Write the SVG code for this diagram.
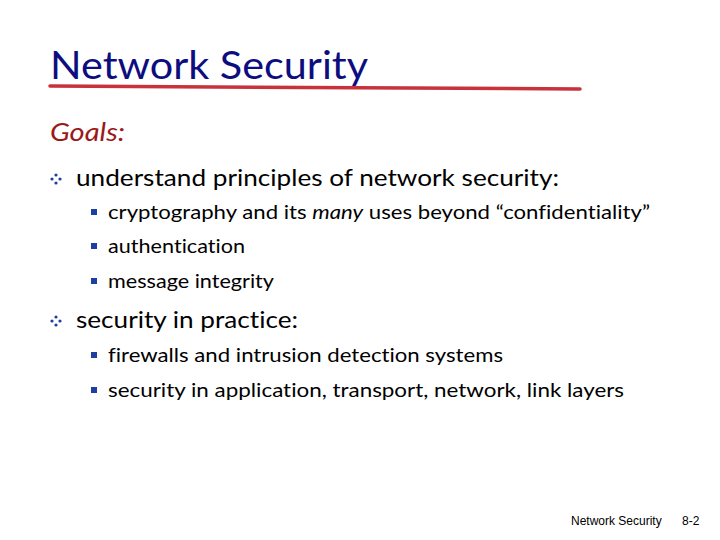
<svg xmlns="http://www.w3.org/2000/svg" width="720" height="540" viewBox="0 0 720 540">
<style>
.t{font-family:Lato,"Liberation Sans",sans-serif;fill:#000;font-variant-ligatures:none}
.l1{font-size:24px}
.l2{font-size:19px}
.sq{fill:#1f3fa0}
.dm{fill:#1f3fa0}
</style>
<defs>
<g id="dia"><circle cx="0" cy="-4" r="1.6" class="dm"/><circle cx="0" cy="4" r="1.6" class="dm"/><circle cx="-4" cy="0" r="1.6" class="dm"/><circle cx="4" cy="0" r="1.6" class="dm"/></g>
<rect id="sq" x="-3" y="-3" width="6" height="6" class="sq"/>
</defs>
<rect width="720" height="540" fill="#fff"/>
<text x="50" y="79" font-family="Lato,'Liberation Sans',sans-serif" font-size="38" fill="#0d0d80" textLength="318" lengthAdjust="spacingAndGlyphs">Network Security</text>
<path d="M50 86 Q300 88 580 89" stroke="#c8323a" stroke-width="3.5" fill="none" stroke-linecap="round"/>
<text x="50" y="141" font-family="Lato,'Liberation Sans',sans-serif" font-size="26" font-style="italic" fill="#9a1a1a" textLength="75" lengthAdjust="spacingAndGlyphs">Goals:</text>
<use href="#dia" x="56" y="179"/>
<text class="t l1" x="76" y="186" textLength="483" lengthAdjust="spacingAndGlyphs">understand principles of network security:</text>
<use href="#sq" x="94" y="212"/>
<text class="t l2" x="108" y="219" textLength="542" lengthAdjust="spacingAndGlyphs">cryptography and its <tspan font-style="italic">many</tspan> uses beyond “confidentiality”</text>
<use href="#sq" x="94" y="246"/>
<text class="t l2" x="108" y="253" textLength="137" lengthAdjust="spacingAndGlyphs">authentication</text>
<use href="#sq" x="94" y="281"/>
<text class="t l2" x="108" y="288" textLength="166" lengthAdjust="spacingAndGlyphs">message integrity</text>
<use href="#dia" x="56" y="321"/>
<text class="t l1" x="76" y="328" textLength="222" lengthAdjust="spacingAndGlyphs">security in practice:</text>
<use href="#sq" x="94" y="355"/>
<text class="t l2" x="108" y="362" textLength="395" lengthAdjust="spacingAndGlyphs">firewalls and intrusion detection systems</text>
<use href="#sq" x="94" y="390"/>
<text class="t l2" x="108" y="397" textLength="516" lengthAdjust="spacingAndGlyphs">security in application, transport, network, link layers</text>
<text x="571" y="525" font-family="'Liberation Sans',sans-serif" font-size="12" fill="#000">Network Security</text>
<text x="682" y="525" font-family="'Liberation Sans',sans-serif" font-size="12" fill="#000">8-2</text>
</svg>
